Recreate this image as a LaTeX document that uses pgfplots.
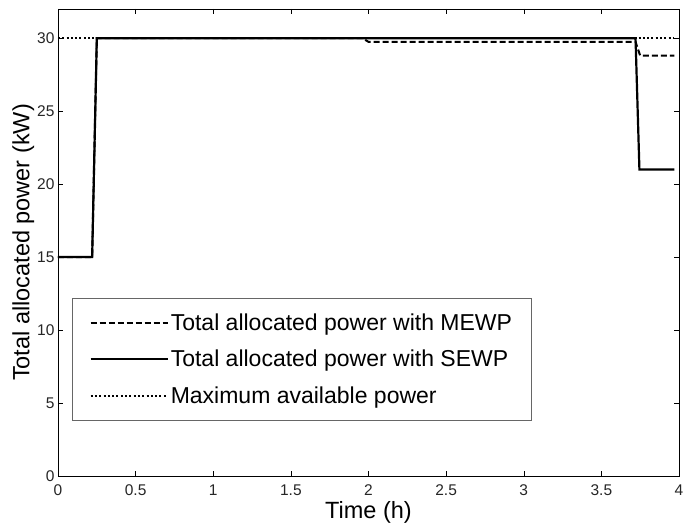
\documentclass[border=0pt]{standalone}
\usepackage{fontspec}
\setmainfont{Liberation Sans}
\usepackage{pgfplots}
\pgfplotsset{compat=1.18}
\usetikzlibrary{calc}

\begin{document}
\begin{tikzpicture}
\begin{axis}[
    name=ax,
    scale only axis,
    width=621pt, height=467pt,
    xmin=0, xmax=4, ymin=0, ymax=32,
    xtick={0,0.5,...,4},
    ytick={0,5,...,30},
    tick align=inside,
    major tick length=5pt,
    tick style={black, line width=0.5pt},
    axis line style={black, line width=0.7pt},
    /pgf/number format/assume math mode=true,
    tick label style={font=\fontsize{15.5}{18}\selectfont, color=black!85},
    xticklabel style={yshift=-5pt},
    label style={font=\fontsize{23.5}{26}\selectfont},
    xlabel={Time (h)},
    ylabel={Total allocated power (kW)},
    xlabel shift=-1pt,
    ylabel shift=-4pt,
    legend style={
        at={(0.023,0.118)}, anchor=south west,
        draw=black!60, line width=0.6pt,
        font=\fontsize{23}{26}\selectfont,
        inner xsep=17pt, inner ysep=14pt,
        row sep=14pt,
        cells={anchor=west},
    },
    legend image code/.code={\draw[#1] (0pt,0pt) -- (77pt,0pt);},
]
\addplot[black, line width=2pt, dash pattern=on 6pt off 3pt] coordinates {
    (0,15) (0.22,15) (0.25,30) (1.96,30) (2.0,29.75) (3.72,29.75) (3.75,28.8) (3.97,28.8)
};
\addlegendentry{Total allocated power with MEWP}
\addplot[black, line width=2.2pt] coordinates {
    (0,15) (0.22,15) (0.25,30) (3.72,30) (3.745,21) (3.97,21)
};
\addlegendentry{Total allocated power with SEWP}
\addplot[black, line width=2pt, dash pattern=on 2pt off 2.3pt] coordinates {
    (0,30) (0.25,30) (3.72,30) (3.97,30)
};
\addlegendentry{Maximum available power}
\end{axis}
\path[use as bounding box] ($(ax.south west)+(-58pt,-46pt)$) rectangle ($(ax.north east)+(15pt,9pt)$);
\end{tikzpicture}
\end{document}
